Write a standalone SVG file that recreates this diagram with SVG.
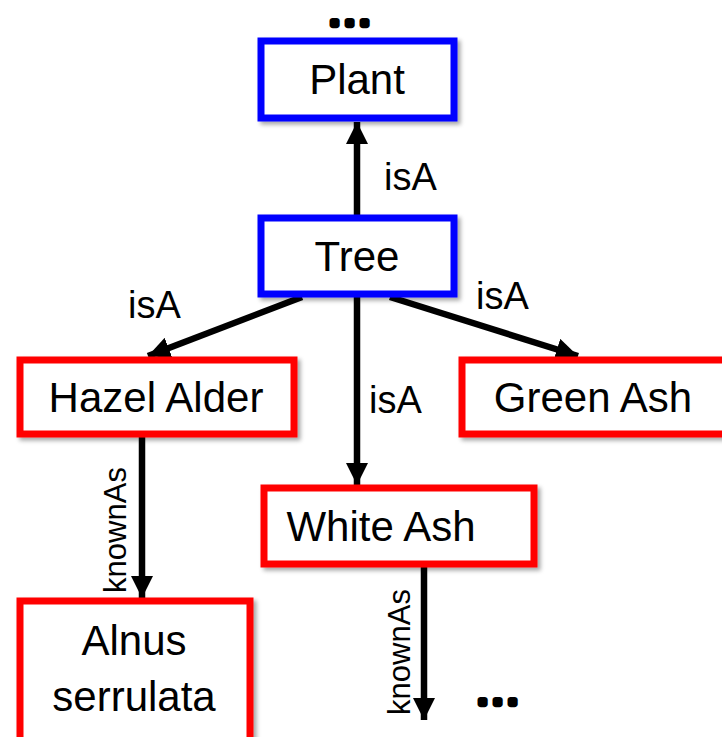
<svg xmlns="http://www.w3.org/2000/svg" width="722" height="737" viewBox="0 0 722 737">
  <defs>
    <marker id="arrow" viewBox="0 0 10 10" refX="10" refY="5" markerWidth="3.4" markerHeight="3.4" markerUnits="strokeWidth" orient="auto">
      <path d="M0,0 L10,5 L0,10 z" fill="#000"/>
    </marker>
    <filter id="shadow" x="-10%" y="-10%" width="125%" height="130%">
      <feDropShadow dx="3" dy="3" stdDeviation="2" flood-color="#000" flood-opacity="0.35"/>
    </filter>
  </defs>
  <style>
    .box { fill: #fff; stroke-width: 7; filter: url(#shadow); }
    .blue { stroke: #0000ff; }
    .red { stroke: #ff0000; }
    .label { font-family: "Liberation Sans", Arial, sans-serif; font-size: 42px; fill: #000; text-anchor: middle; }
    .edge { stroke: #000; stroke-width: 6.5; fill: none; marker-end: url(#arrow); }
    .elabel { font-family: "Liberation Sans", Arial, sans-serif; font-size: 38px; fill: #000; }
    .vlabel { font-family: "Liberation Sans", Arial, sans-serif; font-size: 31px; fill: #000; text-anchor: middle; }
    .dots { font-family: "Liberation Sans", Arial, sans-serif; font-size: 26px; font-weight: bold; fill: #000; stroke: #000; stroke-width: 6.5; stroke-linejoin: round; letter-spacing: 7.8px; }
  </style>
  <rect width="722" height="737" fill="#fff"/>

  <!-- continuation marks -->
  <text class="dots" x="331" y="25">...</text>
  <text class="dots" x="479" y="704">...</text>

  <!-- connectors -->
  <g id="connectors">
    <line class="edge" x1="357" y1="215" x2="357" y2="122"/>
    <line class="edge" x1="302" y1="297" x2="148" y2="356"/>
    <line class="edge" x1="390" y1="297" x2="578" y2="356"/>
    <line class="edge" x1="357" y1="297" x2="357" y2="485"/>
    <line class="edge" x1="142" y1="437" x2="142" y2="598"/>
    <line class="edge" x1="424" y1="567" x2="424" y2="720"/>
    <text class="elabel" x="384" y="190">isA</text>
    <text class="elabel" x="128" y="318">isA</text>
    <text class="elabel" x="476" y="309">isA</text>
    <text class="elabel" x="369" y="413">isA</text>
    <text class="vlabel" transform="translate(126,530) rotate(-90)">knownAs</text>
    <text class="vlabel" transform="translate(410,652) rotate(-90)">knownAs</text>
  </g>

  <g id="plant">
    <rect class="box blue" x="261" y="41" width="193" height="77"/>
    <text class="label" x="357" y="94">Plant</text>
  </g>
  <g id="tree">
    <rect class="box blue" x="261" y="218" width="193" height="76"/>
    <text class="label" x="357" y="271">Tree</text>
  </g>
  <g id="hazel-alder">
    <rect class="box red" x="20" y="360" width="274" height="74"/>
    <text class="label" x="156" y="412">Hazel Alder</text>
  </g>
  <g id="green-ash">
    <rect class="box red" x="462" y="360" width="266" height="74"/>
    <text class="label" x="593" y="412">Green Ash</text>
  </g>
  <g id="white-ash">
    <rect class="box red" x="264" y="488" width="270" height="76"/>
    <text class="label" x="381" y="541">White Ash</text>
  </g>
  <g id="alnus-serrulata">
    <rect class="box red" x="20" y="601" width="230" height="145"/>
    <text class="label" x="134" y="655">Alnus</text>
    <text class="label" x="134" y="711">serrulata</text>
  </g>
</svg>
